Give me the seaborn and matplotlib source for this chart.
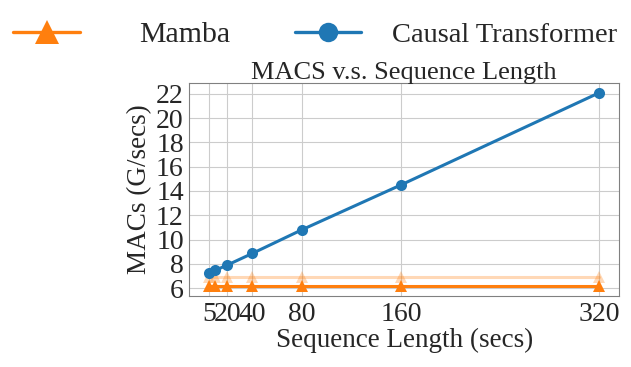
import matplotlib
matplotlib.use("Agg")
import matplotlib.pyplot as plt
from matplotlib.lines import Line2D
import seaborn as sns
import pandas as pd

seq_len = [5, 10, 20, 40, 80, 160, 320]
x_ticks = [5, 20, 40, 80, 160, 320]
transformer_macs = [7.2, 7.45, 7.9, 8.85, 10.8, 14.5, 22.1]
mamba_macs = [6.13] * 7
mamba_light_macs = [6.9] * 7

sns.set_style("whitegrid", {"axes.edgecolor": "0.5", "grid.color": "0.8"})
plt.rcParams["font.family"] = ["Liberation Serif", "DejaVu Serif"]

fig, ax = plt.subplots(figsize=(6.31, 3.67), dpi=100)
fig.subplots_adjust(left=0.30, right=0.981, top=0.774, bottom=0.193)

orange = "#ff7f0e"
blue = "#1f77b4"

df_m = pd.DataFrame({"x": seq_len, "y": mamba_macs})
df_ml = pd.DataFrame({"x": seq_len, "y": mamba_light_macs})
df_t = pd.DataFrame({"x": seq_len, "y": transformer_macs})

sns.lineplot(data=df_ml, x="x", y="y", ax=ax, color=orange, alpha=0.3,
             marker="^", markersize=8, markeredgewidth=0, linewidth=2.2)
sns.lineplot(data=df_m, x="x", y="y", ax=ax, color=orange,
             marker="^", markersize=8, markeredgewidth=0, linewidth=2.2)
sns.lineplot(data=df_t, x="x", y="y", ax=ax, color=blue,
             marker="o", markersize=8, markeredgewidth=0, linewidth=2.2)

ax.set_xticks(x_ticks)
ax.set_yticks(range(6, 23, 2))
ax.tick_params(labelsize=20, pad=1, length=3, color="0.6", width=0.8)
ax.set_xlabel("Sequence Length (secs)", fontsize=19.5, labelpad=1)
ax.set_ylabel("MACs (G/secs)", fontsize=19.5, labelpad=3)
ax.set_title("MACS v.s. Sequence Length", fontsize=19, pad=3)

# two single-entry legends so the spacing matches the original
h_mamba = Line2D([], [], color=orange, marker="^", markersize=17, markeredgewidth=0, linewidth=2.4)
h_trans = Line2D([], [], color=blue, marker="o", markersize=14, markeredgewidth=0, linewidth=2.4)
fig.legend([h_mamba], ["Mamba"], loc="center left", bbox_to_anchor=(0.021, 0.905),
           frameon=False, fontsize=21.5, handlelength=2.24, handletextpad=1.97,
           borderpad=0, borderaxespad=0)
fig.legend([h_trans], ["Causal Transformer"], loc="center left",
           bbox_to_anchor=(0.468, 0.905), frameon=False, fontsize=20.5,
           handlelength=2.3, handletextpad=1.1, borderpad=0, borderaxespad=0)

fig.savefig("out.png", dpi=100)
